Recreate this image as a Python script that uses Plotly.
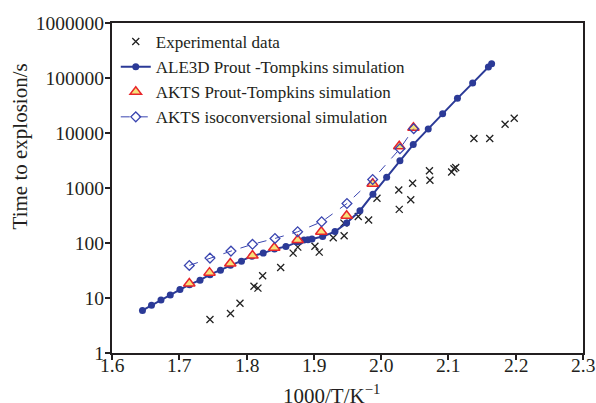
import plotly.graph_objects as go

# Experimental data
exp_x = [1.7456, 1.7761, 1.7902, 1.8110, 1.8169, 1.8239, 1.8507, 1.8692, 1.8761,
         1.9016, 1.9080, 1.9288, 1.9450, 1.9447, 1.9660, 1.9814, 1.9938, 2.0262,
         2.0269, 2.0440, 2.0468, 2.0718, 2.0725, 2.1048, 2.1082, 2.1108, 2.1379,
         2.1614, 2.1842, 2.1978]
exp_y = [4.06, 5.22, 8.04, 16.4, 15.1, 25.3, 35.9, 65.5, 84.2,
         87.1, 68.3, 125, 135, 230, 303, 261, 649, 920,
         409, 612, 1218, 2065, 1387, 1955, 2238, 2362, 7940,
         7940, 14460, 18600]

# ALE3D Prout-Tompkins simulation
ale_x = [1.6453, 1.6587, 1.6728, 1.6866, 1.7010, 1.7152, 1.7308, 1.7456, 1.7612,
         1.7761, 1.7924, 1.8080, 1.8248, 1.8415, 1.8585, 1.8749, 1.8793, 1.8853,
         1.8912, 1.8972, 1.9131, 1.9314, 1.9487, 1.9685, 1.9878, 2.0082, 2.0279,
         2.0477, 2.0700, 2.0914, 2.1134, 2.1360, 2.1594, 2.1642]
ale_y = [5.94, 7.36, 9.2, 11.3, 14.2, 17.5, 21.1, 26.6, 32.1,
         39.6, 46.8, 57.7, 65.5, 77.4, 86.0, 104, 108, 113,
         115, 118, 131, 161, 230, 386, 771, 1566, 3143,
         6150, 11880, 22480, 42660, 80760, 158000, 181500]

# AKTS Prout-Tompkins simulation
aktspt_x = [1.7149, 1.7449, 1.7758, 1.8088, 1.8412, 1.8759, 1.9110, 1.9487, 1.9874, 2.0269, 2.0480]
aktspt_y = [18.4, 28.9, 42.5, 59.0, 81.8, 113, 160, 312, 1197, 5750, 12500]

# AKTS isoconversional simulation
iso_x = [1.7149, 1.7456, 1.7768, 1.8088, 1.8422, 1.8759, 1.9116, 1.9492, 1.9874, 2.0279, 2.0484]
iso_y = [39.1, 53.1, 71.2, 94.7, 121, 160, 243, 522, 1429, 5176, 11970]

x_ticks = [1.6, 1.7, 1.8, 1.9, 2.0, 2.1, 2.2, 2.3]
x_ticktext = ["1.6", "1.7", "1.8", "1.9", "2.0", "2.1", "2.2", "2.3"]
y_ticks = [1, 10, 100, 1000, 10000, 100000, 1000000]
y_ticktext = ["1", "10", "100", "1000", "10000", "100000", "1000000"]

x_title = "1000/T/K<sup>−1</sup>"
y_title = "Time to explosion/s"

FONT = "Liberation Serif, Times New Roman, serif"
TXT = "#231F20"
BLUE = "#2B3A97"

fig = go.Figure()
fig.add_trace(go.Scatter(
    x=exp_x, y=exp_y, mode="markers", name="Experimental data",
    marker=dict(symbol="x-thin", size=7, line=dict(color="#222222", width=1.3), color="#222222")))
fig.add_trace(go.Scatter(
    x=ale_x, y=ale_y, mode="lines+markers", name="ALE3D Prout -Tompkins simulation",
    line=dict(color=BLUE, width=2),
    marker=dict(symbol="circle", size=7, color=BLUE)))
fig.add_trace(go.Scatter(
    x=aktspt_x, y=aktspt_y, mode="markers", name="AKTS Prout-Tompkins simulation",
    marker=dict(symbol="triangle-up", size=10, color="#F7E27A",
                line=dict(color="#E8262B", width=1.5))))
fig.add_trace(go.Scatter(
    x=iso_x, y=iso_y, mode="lines+markers", name="AKTS isoconversional simulation",
    line=dict(color="#3A45B0", width=1, dash="dash"),
    marker=dict(symbol="diamond-open", size=7.5, color="#3A45B0", line=dict(width=1.3))))

annotations = [
    dict(text=x_title, xref="paper", yref="paper", x=0.467, y=-0.125,
         xanchor="center", yanchor="middle", showarrow=False,
         font=dict(family=FONT, size=21, color=TXT)),
    dict(text=y_title, xref="paper", yref="paper", x=-0.1953, y=0.626,
         xanchor="center", yanchor="middle", showarrow=False, textangle=-90,
         font=dict(family=FONT, size=21, color=TXT)),
]
# x tick labels placed through the x scale, just under the axis
for v, t in zip(x_ticks, x_ticktext):
    annotations.append(dict(text=t, xref="x", yref="paper", x=v, y=-0.037,
                            xanchor="center", yanchor="middle", showarrow=False,
                            font=dict(family=FONT, size=19.5, color=TXT)))

fig.update_layout(
    width=596, height=403,
    margin=dict(l=112, r=13, t=23, b=50),
    paper_bgcolor="white", plot_bgcolor="white",
    font=dict(family=FONT, color=TXT, size=19),
    showlegend=True,
    legend=dict(x=0.008, y=0.997, xanchor="left", yanchor="top",
                bgcolor="rgba(0,0,0,0)", borderwidth=0,
                font=dict(family=FONT, size=17, color=TXT),
                itemwidth=30, tracegroupgap=0),
    annotations=annotations,
)
fig.update_xaxes(
    range=[1.6, 2.3], tickvals=x_ticks, showticklabels=False,
    showgrid=False, zeroline=False, automargin=False,
    showline=True, linecolor=TXT, linewidth=2, mirror=True,
    ticks="outside", ticklen=5, tickwidth=1.5, tickcolor=TXT,
)
fig.update_yaxes(
    type="log", range=[0, 6], tickvals=y_ticks, ticktext=y_ticktext,
    showgrid=False, zeroline=False, automargin=False,
    showline=True, linecolor=TXT, linewidth=2, mirror=True,
    ticks="outside", ticklen=5, tickwidth=1.5, tickcolor=TXT,
    ticklabelstandoff=-3,
    tickfont=dict(family=FONT, size=19.5, color=TXT),
)

fig.write_html("out.html", config={"displayModeBar": False},
               post_script="document.body.style.margin='0';document.body.style.overflow='hidden';")
